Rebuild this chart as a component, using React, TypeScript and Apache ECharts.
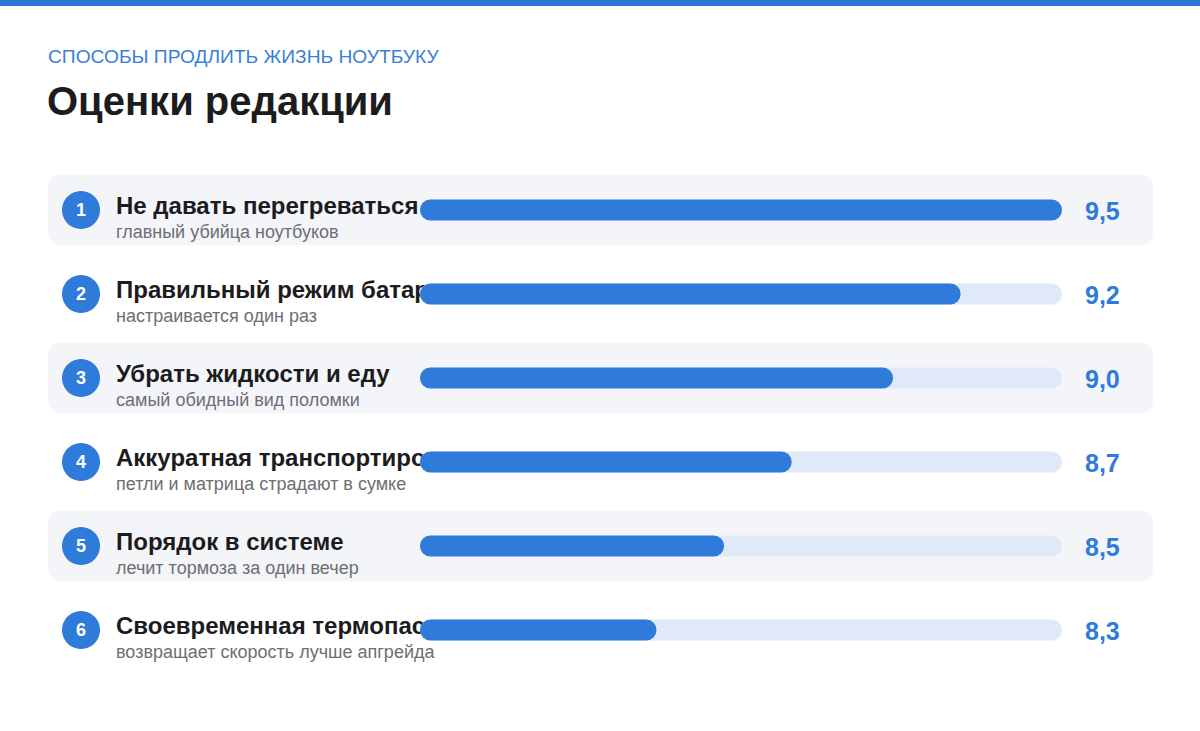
import React, { useEffect, useRef } from "react";
import * as echarts from "echarts";

const titles = [
  "Не давать перегреваться",
  "Правильный режим батареи",
  "Убрать жидкости и еду",
  "Аккуратная транспортировка",
  "Порядок в системе",
  "Своевременная термопаста",
];
const notes = [
  "главный убийца ноутбуков",
  "настраивается один раз",
  "самый обидный вид поломки",
  "петли и матрица страдают в сумке",
  "лечит тормоза за один вечер",
  "возвращает скорость лучше апгрейда",
];
const scores = [9.5, 9.2, 9.0, 8.7, 8.5, 8.3];
const kicker = "СПОСОБЫ ПРОДЛИТЬ ЖИЗНЬ НОУТБУКУ";
const heading = "Оценки редакции";

const BLUE = "#2f7bd9";
const FONT = "Arial";

export default function App() {
  const ref = useRef<HTMLDivElement>(null);
  useEffect(() => {
    if (!ref.current) return;
    const chart = echarts.init(ref.current, null, { renderer: "svg" });
    const cats = titles.map((_, i) => String(i + 1));
    chart.setOption({
      animation: false,
      grid: { left: 420, right: 138, top: 168, bottom: 59 },
      xAxis: { type: "value", min: 7.6, max: 9.5, show: false },
      yAxis: { type: "category", data: cats, inverse: true, show: false },
      series: [
        {
          type: "bar",
          data: scores,
          barWidth: 21,
          z: 5,
          itemStyle: { color: BLUE, borderRadius: 10.5 },
          showBackground: true,
          backgroundStyle: { color: "#dfe9f7", borderRadius: 10.5 },
        },
      ],
    });
    const els: any[] = [
      { type: "rect", shape: { x: 0, y: 0, width: 1200, height: 6 }, style: { fill: "#2f78d6" }, z: 0 },
      {
        type: "text",
        style: { text: kicker, x: 48, y: 56.5, fill: "#3a7fd5", font: `19.2px ${FONT}`, textVerticalAlign: "middle" },
      },
      {
        type: "text",
        style: { text: heading, x: 47, y: 100.5, fill: "#1c1c1e", font: `bold 40px ${FONT}`, textVerticalAlign: "middle" },
      },
    ];
    cats.forEach((c, i) => {
      const y = chart.convertToPixel({ yAxisIndex: 0 }, c) as number;
      if (i % 2 === 0) {
        els.push({
          type: "rect",
          shape: { x: 48, y: y - 35, width: 1105, height: 70, r: 12 },
          style: { fill: "#f4f5f9" },
          z: 0,
        });
      }
      els.push(
        { type: "circle", shape: { cx: 81, cy: y, r: 19 }, style: { fill: BLUE }, z: 1 },
        {
          type: "text",
          z: 2,
          style: { text: c, x: 81, y: y, fill: "#fff", font: `bold 18px ${FONT}`, textAlign: "center", textVerticalAlign: "middle" },
        },
        {
          type: "text",
          z: 1,
          style: { text: titles[i], x: 116, y: y - 4.5, fill: "#1c1c1e", font: `bold 24px ${FONT}`, textVerticalAlign: "middle" },
        },
        {
          type: "text",
          z: 1,
          style: { text: notes[i], x: 116, y: y + 22, fill: "#6e6e73", font: `18px ${FONT}`, textVerticalAlign: "middle" },
        },
        {
          type: "text",
          z: 1,
          style: {
            text: scores[i].toFixed(1).replace(".", ","),
            x: 1085,
            y: y + 0.5,
            fill: BLUE,
            font: `bold 25px ${FONT}`,
            textVerticalAlign: "middle",
          },
        }
      );
    });
    chart.setOption({ graphic: { elements: els } });
    return () => chart.dispose();
  }, []);
  return (
    <div
      ref={ref}
      style={{ position: "fixed", left: 0, top: 0, width: 1200, height: 731, background: "#fff" }}
    />
  );
}
